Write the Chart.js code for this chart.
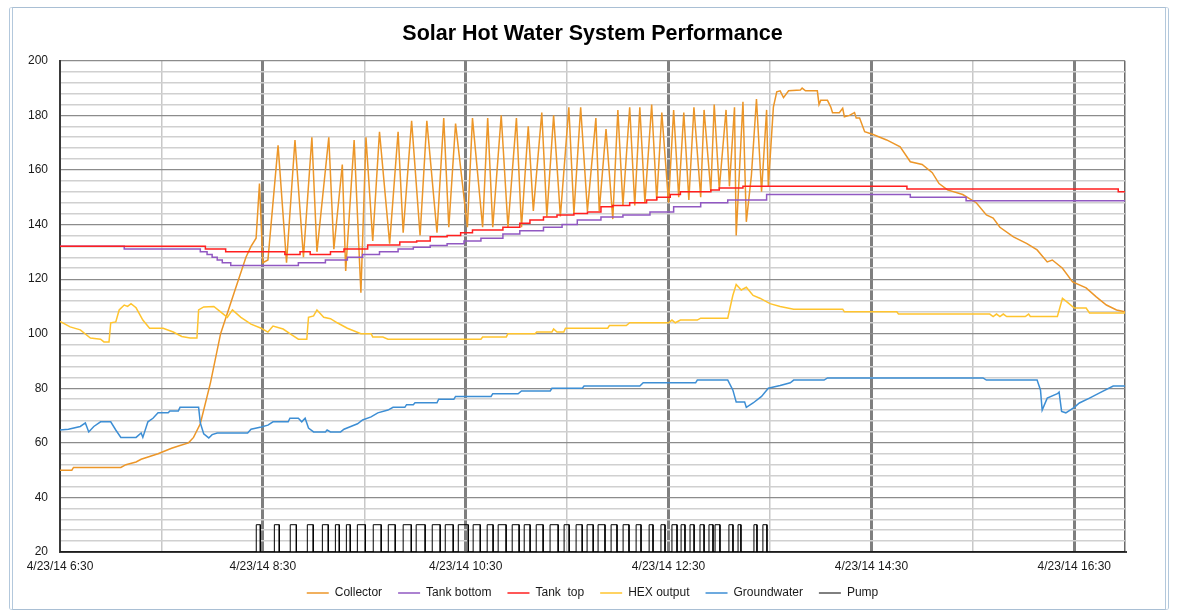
<!DOCTYPE html>
<html>
<head>
<meta charset="utf-8">
<title>Solar Hot Water System Performance</title>
<script src="https://cdn.jsdelivr.net/npm/chart.js@4.4.1/dist/chart.umd.min.js"></script>
<style>
  html, body { margin: 0; padding: 0; background: #fff; }
  #wrap { position: relative; width: 1177px; height: 612px; overflow: hidden; }
  #frame { position: absolute; left: 9px; top: 7px; width: 1160px; height: 603px; box-sizing: border-box;
    border: 1px solid #a9bfd4; border-left: 4px double #b3c8dc; border-right: 4px double #b3c8dc; border-radius: 3px; }
  canvas { position: absolute; left: 0; top: 0; }
</style>
</head>
<body>
<div id="wrap">
  <div id="frame"></div>
  <canvas id="chart" width="1177" height="612"></canvas>
</div>
<script>
// Minutes after 4/23/14 6:30, temperature
let collector = [[0,50],[7,50],[8,51],[36,51],[39,52],[45,53],[48,54],[53,55],[58,56],[62,57],[66,58],[71,59],[76,60],
  [79,62],[83,67],[89,82],[95,100],[103,115],[110,128],[113,132],[116,135],[118,155],[120,126],[123,127],[129,169],
  [134,126],[139,171],[144,128],[149,172],[152,130],[159,172],[162,131],[167,162],[169,123],[174,171],[178,115],
  [181,172],[185,134],[189,174],[195,133],[200,174],[203,137],[208,178],[213,136],[217,178],[223,137],[227,179],
  [230,139],[234,177],[241,139],[244,179],[250,139],[253,179],[256,139],[261,180],[265,139],[270,179],[273,139],
  [277,176],[280,145],[285,181],[288,143],[292,180],[296,143],[301,183],[304,144],[308,183],[312,145],[317,179],
  [319,145],[323,175],[327,142],[330,182],[333,147],[337,183],[340,147],[343,183],[346,148],[350,184],[353,149],
  [356,181],[360,148],[363,182],[366,150],[369,181],[372,149],[375,183],[379,150],[381,182],[385,152],[387,184],
  [390,153],[394,182],[396,154],[399,183],[400,136],[404,185],[406,141],[409,158],[412,186],[415,152],[418,182],
  [419,154],[422,183],[424,188.6],[426,189],[428,186.5],[431,189],[438,189.3],[439,190],[441,189],[448,189],
  [449,184],[450,185.5],[454,185.5],[456,183],[457,181],[461,181],[463,182.6],[464,179.5],[467,180],[470,181],
  [471,179],[473,179],[476,174],[481,173],[489,171],[497,168.5],[503,163],[510,162],[516,159],[520,155],[525,152.7],
  [534,151],[542,148],[548,143.5],[552,142.4],[556,139],[564,135.5],[572,133],[578,130.7],[584,126.3],[587,127],
  [593,124],[599,119],[607,116.8],[613,113.5],[619,110.5],[625,108.7],[630,108]];

// step lines: each value holds until the next point
let tankBottom = [[0,132],[38,131],[83,130],[87,129],[90,128],[93,127],[96,126],[101,125],[141,126],[157,127],
  [170,128],[179,129],[189,130],[200,131],[209,131.7],[219,132.3],[229,133],[239,134],[249,135],[262,136.5],
  [272,137.7],[286,139],[297,140],[306,141.7],[320,142.8],[333,143.5],[349,144.6],[363,146.5],[379,148],[395,149],
  [418,151],[503,150],[536,148.7],[630,148.7]];

let tankTop = [[0,132],[86,131],[98,130],[133,129],[142,130],[148,129],[160,130],[168,131],[182,132.5],[201,133.6],
  [211,134],[219,135.5],[229,136],[237,137],[244,138],[262,139],[272,140.5],[278,141.7],[286,142.8],[294,143.5],
  [304,144],[312,144.6],[320,146.5],[327,147],[337,148],[347,149],[353,150],[361,151],[367,152],[385,152.7],
  [390,153.4],[404,154],[501,153],[626,152],[630,152]];

let hexOutput = [[0,104.5],[6,102.5],[12,101.4],[18,98.4],[24,98],[26,97],[29,97],[30,104],[33,104.3],[35,108.7],
  [38,110.5],[40,110],[42,111],[45,109.5],[49,105],[53,102],[61,102],[67,100.6],[72,99],[77,98.4],[81,98.4],
  [82,108.7],[85,109.8],[91,110],[95,108],[99,106],[102,108.7],[107,106],[113,103.5],[119,102],[123,100.6],
  [126,102.8],[132,101.7],[136,100],[141,98],[146,98],[147,106],[150,106.5],[152,108.7],[156,106],[160,105.5],
  [164,104],[170,102],[178,100],[184,100],[185,98.8],[191,98.8],[194,98],[249,98],[250,98.8],[264,98.8],[265,100],
  [281,100],[282,100.6],[291,100.6],[292,101.7],[294,100.6],[298,100.6],[299,102],[324,102],[325,103],[335,103],
  [337,104],[360,104],[362,105],[364,104],[367,105],[377,105],[379,105.7],[395,105.7],[398,114],[400,118],[403,116],
  [406,117],[410,114],[414,113],[420,111],[426,110],[434,109],[463,109],[464,108],[495,108],[496,107.2],[550,107.2],
  [552,106.3],[554,107.2],[556,106.3],[558,107.2],[560,106.3],[571,106.3],[573,107.2],[574,106.3],[590,106.3],
  [593,113],[596,111.5],[600,109.4],[607,109.4],[609,107.6],[630,107.6]];

let groundwater = [[0,64.7],[5,65],[12,66],[15,67.3],[17,64],[20,66],[24,67.7],[30,67.7],[33,64.7],[36,62],[45,62],
  [48,63.6],[49,62],[52,67.7],[55,69],[58,71],[64,71],[65,71.7],[70,71.7],[71,73],[82,73],[83,67.3],[85,63.3],
  [88,61.8],[90,63],[93,63.6],[111,63.6],[113,65],[119,65.8],[123,66.5],[126,67.7],[135,67.7],[136,69],[141,69],
  [143,67.7],[145,69],[147,65.4],[150,64],[157,64],[158,64.7],[160,64],[166,64],[168,65],[172,66],[176,67],
  [179,68.4],[184,69.5],[188,71],[194,72],[197,73],[204,73],[205,74],[209,74],[210,74.7],[223,74.7],[224,76],
  [233,76],[234,77],[255,77],[256,78],[271,78],[273,79],[290,79],[291,80],[309,80],[310,80.8],[343,80.8],[345,82],
  [376,82],[377,83],[395,83],[398,79.4],[400,75],[405,75],[406,73],[410,74.6],[415,77],[419,80],[426,81],[432,82],
  [434,83],[452,83],[454,83.8],[546,83.8],[548,83],[578,83],[580,79.4],[581,72],[584,76.4],[590,78],[591,78.6],
  [592.5,71.5],[595,71],[600,73],[603,74.6],[609,76.4],[615,78.3],[623,80.8],[630,80.8]];

// Pump switches on / off (minutes)
let pumpOn = [116.1,126.8,136.2,146.3,155.2,162.9,169.4,175.9,185.3,194.2,203.0,210.7,220.2,227.9,235.6,244.4,
  252.7,259.2,267.5,274.6,281.7,289.9,298.2,305.3,311.8,318.3,326.0,333.1,340.8,348.5,355.5,362.0,367.4,372.7,
  378.6,383.9,387.5,395.7,401.1,410.5,415.8];
let pumpOff = [118.5,129.7,139.8,149.8,158.7,165.2,171.7,180.6,190.0,198.3,207.8,216.0,224.9,232.6,241.5,248.6,
  256.2,263.9,271.6,278.1,285.8,294.7,301.2,308.9,315.4,322.4,329.5,336.6,343.7,350.8,357.9,365.0,369.7,375.1,
  381.0,386.3,390.4,398.1,402.8,412.3,418.2];
let pumpLow = 20, pumpHigh = 30;

let seriesNames = ['Collector', 'Tank bottom', 'Tank  top', 'HEX output', 'Groundwater', 'Pump'];
let seriesColors = ['#ec9628', '#9158c2', '#ff1f1f', '#ffc42e', '#3d8ed4', '#000000'];

// x axis: 6:30 to 17:00
let xMin = 0, xMax = 630;
let yMin = 20, yMax = 200;

function timeLabel(m) {
  let total = 6 * 60 + 30 + m;
  let h = Math.floor(total / 60), mm = total % 60;
  return `4/23/14 ${h}:${String(mm).padStart(2, '0')}`;
}

function toPoints(arr) {
  return arr.map(p => ({x: p[0], y: p[1]}));
}

// pump as square pulses
let pump = [[xMin, pumpLow]];
pumpOn.forEach((t, i) => {
  pump.push([t, pumpLow], [t, pumpHigh], [pumpOff[i], pumpHigh], [pumpOff[i], pumpLow]);
});
pump.push([xMax, pumpLow]);

let allData = [collector, tankBottom, tankTop, hexOutput, groundwater, pump];
let stepped = [false, true, true, false, false, false];

Chart.defaults.font.family = "'Liberation Sans', Arial, sans-serif";
Chart.defaults.color = '#1a1a1a';

let datasets = allData.map((d, i) => ({
  label: seriesNames[i],
  data: toPoints(d),
  borderColor: seriesColors[i],
  backgroundColor: seriesColors[i],
  borderWidth: i == 5 ? 1 : 1.5,
  pointRadius: 0,
  tension: 0,
  stepped: stepped[i],
  order: 6 - i,
}));

let chart = new Chart(document.getElementById('chart'), {
  type: 'line',
  data: { datasets: datasets },
  options: {
    responsive: false,
    animation: false,
    devicePixelRatio: 1,
    layout: { padding: { top: 0, right: 52, bottom: 3, left: 0 } },
    plugins: {
      title: {
        display: true,
        text: 'Solar Hot Water System Performance',
        fullSize: false,
        color: '#000',
        font: { size: 21.5, weight: 'bold' },
        padding: { top: 21, bottom: 14 },
      },
      legend: {
        position: 'bottom',
        fullSize: false,
        labels: {
          usePointStyle: true,
          pointStyle: 'line',
          pointStyleWidth: 22,
          boxHeight: 12,
          padding: 16,
          color: '#1a1a1a',
          font: { size: 12 },
          sort: (a, b) => a.datasetIndex - b.datasetIndex,
        },
      },
      tooltip: { enabled: false },
    },
    scales: {
      x: {
        type: 'linear',
        min: xMin,
        max: xMax,
        afterFit: s => { s.height = 19; },
        border: { color: '#3a3a3a', width: 2 },
        grid: {
          drawTicks: false,
          color: ctx => {
            let v = ctx.tick.value;
            if (v == 0) return 'rgba(0,0,0,0)';
            if (v % 120 == 0) return '#7f7f7f';
            if (v % 60 == 0) return '#c8c8c8';
            return '#6a6a6a';
          },
          lineWidth: ctx => {
            let v = ctx.tick.value;
            if (v % 120 == 0) return 3;
            return 1.5;
          },
        },
        ticks: {
          stepSize: 60,
          autoSkip: false,
          maxRotation: 0,
          padding: 7,
          font: { size: 12 },
          color: '#1a1a1a',
          callback: v => (v % 120 == 0 ? timeLabel(v) : ''),
        },
      },
      y: {
        min: yMin,
        max: yMax,
        afterFit: s => { s.width = 60; },
        border: { color: '#3a3a3a', width: 2 },
        grid: {
          drawTicks: false,
          color: ctx => (ctx.tick.value % 20 == 0 ? '#8c8c8c' : '#d0d0d0'),
          lineWidth: ctx => (ctx.tick.value % 20 == 0 ? 1.2 : 1.5),
        },
        ticks: {
          stepSize: 4,
          autoSkip: false,
          padding: 12,
          font: { size: 12 },
          color: '#1a1a1a',
          callback: v => (v % 20 == 0 ? v : ''),
        },
      },
    },
  },
});
</script>
</body>
</html>
